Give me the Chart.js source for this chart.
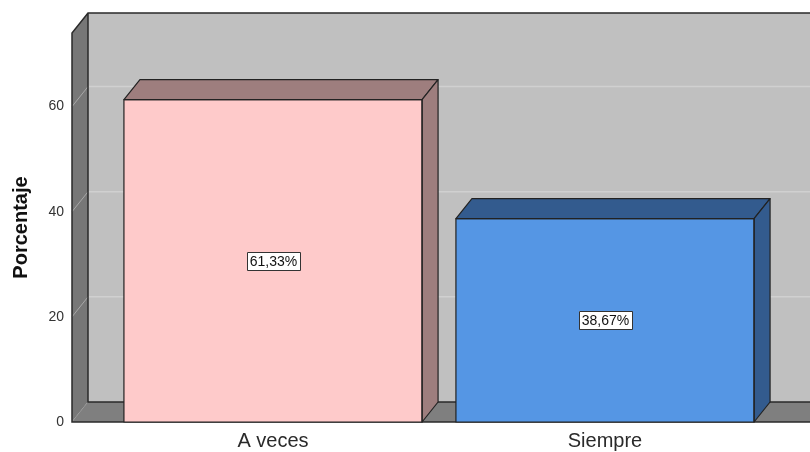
<!DOCTYPE html>
<html>
<head>
<meta charset="utf-8">
<script src="https://cdn.jsdelivr.net/npm/chart.js@4.4.1/dist/chart.umd.min.js"></script>
<style>
html,body{margin:0;padding:0;background:#fff;}
#wrap{width:810px;height:452px;}
</style>
</head>
<body>
<div id="wrap"><canvas id="c" width="810" height="452"></canvas></div>
<script>
const categories = ['A veces', 'Siempre'];
const values = [61.33, 38.67];
const yTicks = [0, 20, 40, 60];
const frontColors = ['#FECACA', '#5596E4'];
const darkColors = ['#9E7E7E', '#335B8E'];

const DX = 16, DY = -20, WALL_LEFT = 72;
const FONT = '"Liberation Sans", Arial, sans-serif';

function fmt(v){ return v.toFixed(2).replace('.', ',') + '%'; }

const wallPlugin = {
  id: 'wall3d',
  beforeDatasetsDraw(chart){
    const ctx = chart.ctx, ca = chart.chartArea, ys = chart.scales.y;
    const W = chart.width;
    const x0 = WALL_LEFT, yb = ca.bottom, yt = ca.top;
    ctx.save();
    ctx.fillStyle = '#C0C0C0';
    ctx.fillRect(x0 + DX, yt + DY, W - (x0 + DX), (yb - yt));
    ctx.strokeStyle = '#D0D0D0';
    ctx.lineWidth = 1.5;
    yTicks.forEach(v => {
      if (v === 0) return;
      const py = ys.getPixelForValue(v) + DY;
      ctx.beginPath(); ctx.moveTo(x0 + DX, py); ctx.lineTo(W, py); ctx.stroke();
    });
    ctx.fillStyle = '#777777';
    ctx.beginPath();
    ctx.moveTo(x0, yb); ctx.lineTo(x0 + DX, yb + DY); ctx.lineTo(x0 + DX, yt + DY); ctx.lineTo(x0, yt);
    ctx.closePath(); ctx.fill();
    ctx.strokeStyle = '#A8A8A8';
    ctx.lineWidth = 1;
    yTicks.forEach(v => {
      const py = ys.getPixelForValue(v);
      ctx.beginPath(); ctx.moveTo(x0, py); ctx.lineTo(x0 + DX, py + DY); ctx.stroke();
    });
    ctx.fillStyle = '#7F7F7F';
    ctx.beginPath();
    ctx.moveTo(x0, yb); ctx.lineTo(x0 + DX, yb + DY); ctx.lineTo(W, yb + DY); ctx.lineTo(W, yb);
    ctx.closePath(); ctx.fill();
    ctx.strokeStyle = '#2A2A2A';
    ctx.lineWidth = 1.5;
    ctx.beginPath();
    ctx.moveTo(W, yt + DY); ctx.lineTo(x0 + DX, yt + DY); ctx.lineTo(x0, yt); ctx.lineTo(x0, yb); ctx.lineTo(W, yb);
    ctx.moveTo(x0 + DX, yt + DY); ctx.lineTo(x0 + DX, yb + DY); ctx.lineTo(W, yb + DY);
    ctx.stroke();
    ctx.restore();
  },
  afterDatasetsDraw(chart){
    const ctx = chart.ctx;
    const meta = chart.getDatasetMeta(0);
    ctx.save();
    meta.data.forEach((bar, i) => {
      const L = bar.x - bar.width / 2, R = bar.x + bar.width / 2, T = bar.y, B = bar.base;
      ctx.fillStyle = darkColors[i];
      ctx.strokeStyle = '#222';
      ctx.lineWidth = 1.2;
      ctx.lineJoin = 'round';
      ctx.beginPath();
      ctx.moveTo(L, T); ctx.lineTo(L + DX, T + DY); ctx.lineTo(R + DX, T + DY); ctx.lineTo(R, T);
      ctx.closePath(); ctx.fill(); ctx.stroke();
      ctx.beginPath();
      ctx.moveTo(R, T); ctx.lineTo(R + DX, T + DY); ctx.lineTo(R + DX, B + DY); ctx.lineTo(R, B);
      ctx.closePath(); ctx.fill(); ctx.stroke();
      ctx.strokeRect(L, T, R - L, B - T);
      const txt = fmt(values[i]);
      ctx.font = '14px ' + FONT;
      const tw = ctx.measureText(txt).width;
      const cy = (T + B) / 2, cx = bar.x;
      const bw = Math.round(tw + 6), bh = 18;
      const bx = Math.round(cx - bw / 2), by = Math.round(cy - bh / 2);
      ctx.fillStyle = '#FFFFFF';
      ctx.fillRect(bx, by, bw, bh);
      ctx.strokeStyle = '#333';
      ctx.lineWidth = 1;
      ctx.strokeRect(bx + 0.5, by + 0.5, bw, bh);
      ctx.fillStyle = '#111';
      ctx.textAlign = 'center';
      ctx.textBaseline = 'middle';
      ctx.fillText(txt, cx + 0.5, cy + 1);
    });
    ctx.restore();
  }
};

new Chart(document.getElementById('c'), {
  type: 'bar',
  data: {
    labels: categories,
    datasets: [{
      data: values,
      backgroundColor: frontColors,
      borderColor: '#222',
      borderWidth: 0,
      categoryPercentage: 1,
      barPercentage: 0.898
    }]
  },
  options: {
    responsive: false,
    animation: false,
    devicePixelRatio: 1,
    layout: { padding: { top: 33, right: 39, left: 0, bottom: 0 } },
    plugins: { legend: { display: false }, tooltip: { enabled: false } },
    scales: {
      x: {
        grid: { display: false, drawTicks: false },
        border: { display: false },
        ticks: { color: '#2A2A2A', font: { size: 20, family: FONT }, padding: 7 },
        afterFit(s){ s.height = 30; }
      },
      y: {
        min: 0,
        max: 74,
        grid: { display: false, drawTicks: false },
        border: { display: false },
        afterBuildTicks(s){ s.ticks = yTicks.map(v => ({ value: v })); },
        ticks: { color: '#333', font: { size: 14, family: FONT }, padding: 43 },
        title: { display: true, text: 'Porcentaje', color: '#111', font: { size: 20, weight: 'bold', family: FONT }, padding: { top: 9, bottom: 0 } },
        afterFit(s){ s.width = 107; s.paddingTop = 0; s.paddingBottom = 0; }
      }
    }
  },
  plugins: [wallPlugin]
});
</script>
</body>
</html>
